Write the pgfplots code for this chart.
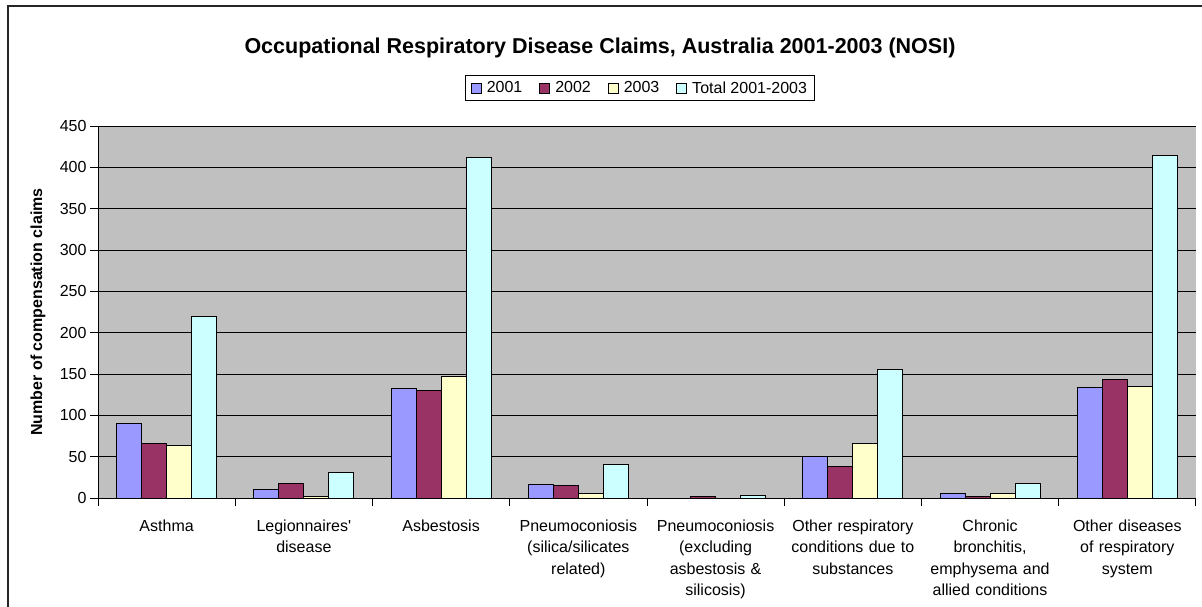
\documentclass[border=0pt]{standalone}
\usepackage{pgfplots}
\pgfplotsset{compat=1.18}
\usepackage{fontspec}
\setmainfont{Liberation Sans}

\definecolor{cA}{HTML}{9999FF}
\definecolor{cB}{HTML}{993366}
\definecolor{cC}{HTML}{FFFFCC}
\definecolor{cD}{HTML}{CCFFFF}
\definecolor{plotbg}{HTML}{C0C0C0}

\begin{document}
\begin{tikzpicture}[x=1pt,y=1pt]
  \useasboundingbox (0,0) rectangle (1202,607);
  % chart frame, cut at right and bottom like the source
  \draw[line width=2pt, black!85] (8,-20) -- (8,601) -- (1230,601);

  \node[font=\bfseries\fontsize{21.5}{24}\selectfont] at (600,559) {Occupational Respiratory Disease Claims, Australia 2001-2003 (NOSI)};

  \begin{axis}[
    at={(98pt,109pt)}, anchor=south west,
    scale only axis, width=1098pt, height=372pt,
    axis background/.style={fill=plotbg},
    xmin=-0.5, xmax=7.5, ymin=0, ymax=450,
    ytick={0,50,...,450},
    ymajorgrids, grid style={black, line width=0.9pt},
    axis x line*=bottom, axis y line*=left,
    axis line style={black, line width=0.9pt, -},
    xtick={0,...,7},
    major x tick style={draw=none},
    minor xtick={-0.5,0.5,...,7.5},
    minor x tick style={black, line width=0.9pt},
    minor tick length=8pt,
    major tick length=8pt,
    tick align=outside,
    tick style={black, line width=0.9pt},
    xticklabels={
      {Asthma},
      {Legionnaires\textquotesingle\\disease},
      {Asbestosis},
      {Pneumoconiosis\\(silica/silicates\\related)},
      {Pneumoconiosis\\(excluding\\asbestosis \&\\silicosis)},
      {Other respiratory\\conditions due to\\substances},
      {Chronic\\bronchitis,\\emphysema and\\allied conditions},
      {Other diseases\\of respiratory\\system}},
    xticklabel style={align=center, text width=136pt, anchor=north, yshift=-10pt,
      font=\fontsize{16}{21.5}\selectfont},
    yticklabel style={font=\fontsize{16}{19}\selectfont},
    /pgf/number format/assume math mode=true,
    ylabel={Number of compensation claims},
    every axis y label/.style={at={(-60pt,186pt)}, rotate=90, anchor=center,
      font=\bfseries\fontsize{16}{19}\selectfont},
    legend columns=4,
    legend cell align=left,
    legend style={at={(0.4936,1.102)}, anchor=center, draw=black, line width=0.9pt,
      font=\fontsize{16}{19}\selectfont, inner xsep=5pt, inner ysep=4pt,
      /tikz/every odd column/.append style={column sep=3pt},
      /tikz/every even column/.append style={column sep=15pt}},
    legend image code/.code={\draw[#1, line width=0.9pt] (0pt,-5pt) rectangle (10pt,5pt);},
    bar width=25pt,
  ]
    \addplot[ybar, bar shift=-37.5pt, fill=cA, draw=black, line width=0.9pt] coordinates {
      (0,90) (1,10) (2,133) (3,16) (5,50) (6,6) (7,134)};
    \addplot[ybar, bar shift=-12.5pt, fill=cB, draw=black, line width=0.9pt] coordinates {
      (0,66) (1,17) (2,130) (3,15) (4,2) (5,38) (6,2) (7,143)};
    \addplot[ybar, bar shift=12.5pt, fill=cC, draw=black, line width=0.9pt] coordinates {
      (0,63) (1,2) (2,147) (3,6) (5,66) (6,6) (7,135)};
    \addplot[ybar, bar shift=37.5pt, fill=cD, draw=black, line width=0.9pt] coordinates {
      (0,220) (1,31) (2,412) (3,40) (4,3) (5,155) (6,17) (7,414)};
    \legend{2001,2002,2003,Total 2001-2003}
  \end{axis}
\end{tikzpicture}
\end{document}
